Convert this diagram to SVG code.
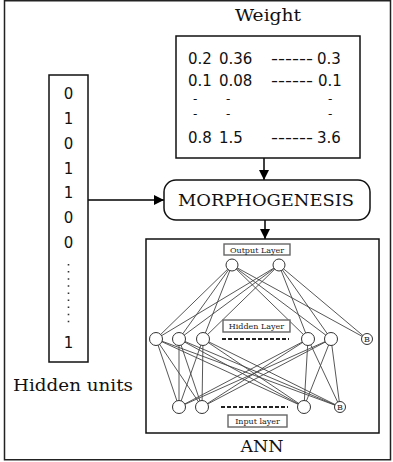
<svg xmlns="http://www.w3.org/2000/svg" width="393" height="462" viewBox="0 0 393 462">
  <defs>
    <marker id="arrow" viewBox="0 0 10 10" refX="10" refY="5" markerWidth="10" markerHeight="10" markerUnits="userSpaceOnUse" orient="auto">
      <path d="M0,0 L10,5 L0,10 z" fill="#000"/>
    </marker>
    <style>
      .box { fill: #fff; stroke: #111; stroke-width: 1.5; }
      .serif { font-family: "DejaVu Serif", "Liberation Serif", serif; fill: #111; }
      .num { font-family: "DejaVu Sans", "Liberation Sans", sans-serif; font-size: 15px; fill: #111; }
      .dash { font-family: "DejaVu Sans", "Liberation Sans", sans-serif; font-size: 12px; fill: #111; }
      .flow { stroke: #000; stroke-width: 1.5; fill: none; marker-end: url(#arrow); }
      .syn { stroke: #444; stroke-width: 0.9; fill: none; }
      .neuron { fill: #fff; stroke: #333; stroke-width: 1; }
      .tag { fill: #fff; stroke: #666; stroke-width: 1.4; }
      .tagtxt { font-family: "DejaVu Serif", "Liberation Serif", serif; font-size: 8px; fill: #222; text-anchor: middle; }
      .ellip { stroke: #222; stroke-width: 2; stroke-dasharray: 4 2; fill: none; }
    </style>
  </defs>

  <!-- outer frame -->
  <rect x="4.5" y="0.75" width="386" height="459" fill="#fff" stroke="#222" stroke-width="1.5"/>

  <!-- connectors between blocks -->
  <g id="connectors">
    <line class="flow" x1="264" y1="158" x2="264" y2="180"/>
    <line class="flow" x1="88" y1="200" x2="164" y2="200"/>
    <line class="flow" x1="265" y1="220" x2="265" y2="239"/>
  </g>

  <!-- weight matrix -->
  <g id="weight">
    <text class="serif" x="268" y="21" font-size="16" text-anchor="middle" textLength="66" lengthAdjust="spacingAndGlyphs">Weight</text>
    <rect class="box" x="176" y="36" width="184" height="122"/>
    <g class="num">
      <text x="188" y="63.5">0.2</text>
      <text x="219" y="63.5">0.36</text>
      <text x="271" y="63.5" textLength="42" lengthAdjust="spacingAndGlyphs">------</text>
      <text x="317" y="63.5">0.3</text>

      <text x="188" y="85.5">0.1</text>
      <text x="219" y="85.5">0.08</text>
      <text x="271" y="85.5" textLength="42" lengthAdjust="spacingAndGlyphs">------</text>
      <text x="318" y="85.5">0.1</text>

      <text x="188" y="142.5">0.8</text>
      <text x="219" y="142.5">1.5</text>
      <text x="271" y="142.5" textLength="42" lengthAdjust="spacingAndGlyphs">------</text>
      <text x="317" y="142.5">3.6</text>
    </g>
    <g class="dash">
      <text x="193" y="103">-</text>
      <text x="226" y="103">-</text>
      <text x="328" y="103">-</text>
      <text x="193" y="117.5">-</text>
      <text x="226" y="117.5">-</text>
      <text x="328" y="117.5">-</text>
    </g>
  </g>

  <!-- hidden units column -->
  <g id="hidden-units">
    <rect class="box" x="49" y="75" width="39" height="287"/>
    <g class="num" text-anchor="middle">
      <text x="68.5" y="99">0</text>
      <text x="68.5" y="124">1</text>
      <text x="68.5" y="149">0</text>
      <text x="68.5" y="174">1</text>
      <text x="68.5" y="198">1</text>
      <text x="68.5" y="223">0</text>
      <text x="68.5" y="248">0</text>
      <text x="68.5" y="348">1</text>
    </g>
    <line x1="68.5" y1="264" x2="68.5" y2="324" stroke="#333" stroke-width="1.6" stroke-dasharray="1.5 5.6"/>
    <text class="serif" x="73" y="391" font-size="17" text-anchor="middle" textLength="120" lengthAdjust="spacingAndGlyphs">Hidden units</text>
  </g>

  <!-- morphogenesis step -->
  <g id="morphogenesis">
    <rect class="box" x="164" y="180" width="206" height="40" rx="12" ry="12"/>
    <text class="serif" x="266" y="206" font-size="16" text-anchor="middle" textLength="176" lengthAdjust="spacingAndGlyphs">MORPHOGENESIS</text>
  </g>

  <!-- artificial neural network -->
  <g id="ann">
    <rect class="box" x="146" y="239" width="233" height="194"/>
    <text class="serif" x="262" y="452" font-size="17" text-anchor="middle" textLength="43" lengthAdjust="spacingAndGlyphs">ANN</text>

    <!-- output -> hidden synapses -->
    <g class="syn">
      <path d="M232,265 L156,339 M232,265 L179,339 M232,265 L203,339 M232,265 L308,339 M232,265 L331,339 M232,265 L367,339"/>
      <path d="M279,265 L156,339 M279,265 L179,339 M279,265 L203,339 M279,265 L308,339 M279,265 L331,339 M279,265 L367,339"/>
    </g>
    <!-- hidden -> input synapses -->
    <g class="syn">
      <path d="M156,339 L179,407 M156,339 L202,407 M156,339 L304,407 M156,339 L340,407"/>
      <path d="M179,339 L179,407 M179,339 L202,407 M179,339 L304,407 M179,339 L340,407"/>
      <path d="M203,339 L179,407 M203,339 L202,407 M203,339 L304,407 M203,339 L340,407"/>
      <path d="M308,339 L179,407 M308,339 L202,407 M308,339 L304,407 M308,339 L340,407"/>
      <path d="M331,339 L179,407 M331,339 L202,407 M331,339 L304,407 M331,339 L340,407"/>
    </g>

    <g id="output-layer">
      <rect class="tag" x="224" y="244" width="66" height="11"/>
      <text class="tagtxt" x="257" y="252.5">Output Layer</text>
      <circle class="neuron" cx="232" cy="265" r="6"/>
      <circle class="neuron" cx="279" cy="265" r="6"/>
    </g>

    <g id="hidden-layer">
      <rect class="tag" x="223" y="320" width="67" height="12"/>
      <text class="tagtxt" x="256.5" y="329">Hidden Layer</text>
      <line class="ellip" x1="222" y1="339" x2="289" y2="339"/>
      <circle class="neuron" cx="156" cy="339" r="6.5"/>
      <circle class="neuron" cx="179" cy="339" r="6.5"/>
      <circle class="neuron" cx="203" cy="339" r="6.5"/>
      <circle class="neuron" cx="308" cy="339" r="6.5"/>
      <circle class="neuron" cx="331" cy="339" r="6.5"/>
      <circle class="neuron" cx="367" cy="339" r="5.5"/>
      <text class="tagtxt" x="367" y="342" font-size="7">B</text>
    </g>

    <g id="input-layer">
      <line class="ellip" x1="221" y1="407" x2="288" y2="407"/>
      <circle class="neuron" cx="179" cy="407" r="6.5"/>
      <circle class="neuron" cx="202" cy="407" r="6.5"/>
      <circle class="neuron" cx="304" cy="407" r="6.5"/>
      <circle class="neuron" cx="340" cy="407" r="5.5"/>
      <text class="tagtxt" x="340" y="410" font-size="7">B</text>
      <rect class="tag" x="228" y="415" width="59" height="12"/>
      <text class="tagtxt" x="257.5" y="424">Input layer</text>
    </g>
  </g>
</svg>
